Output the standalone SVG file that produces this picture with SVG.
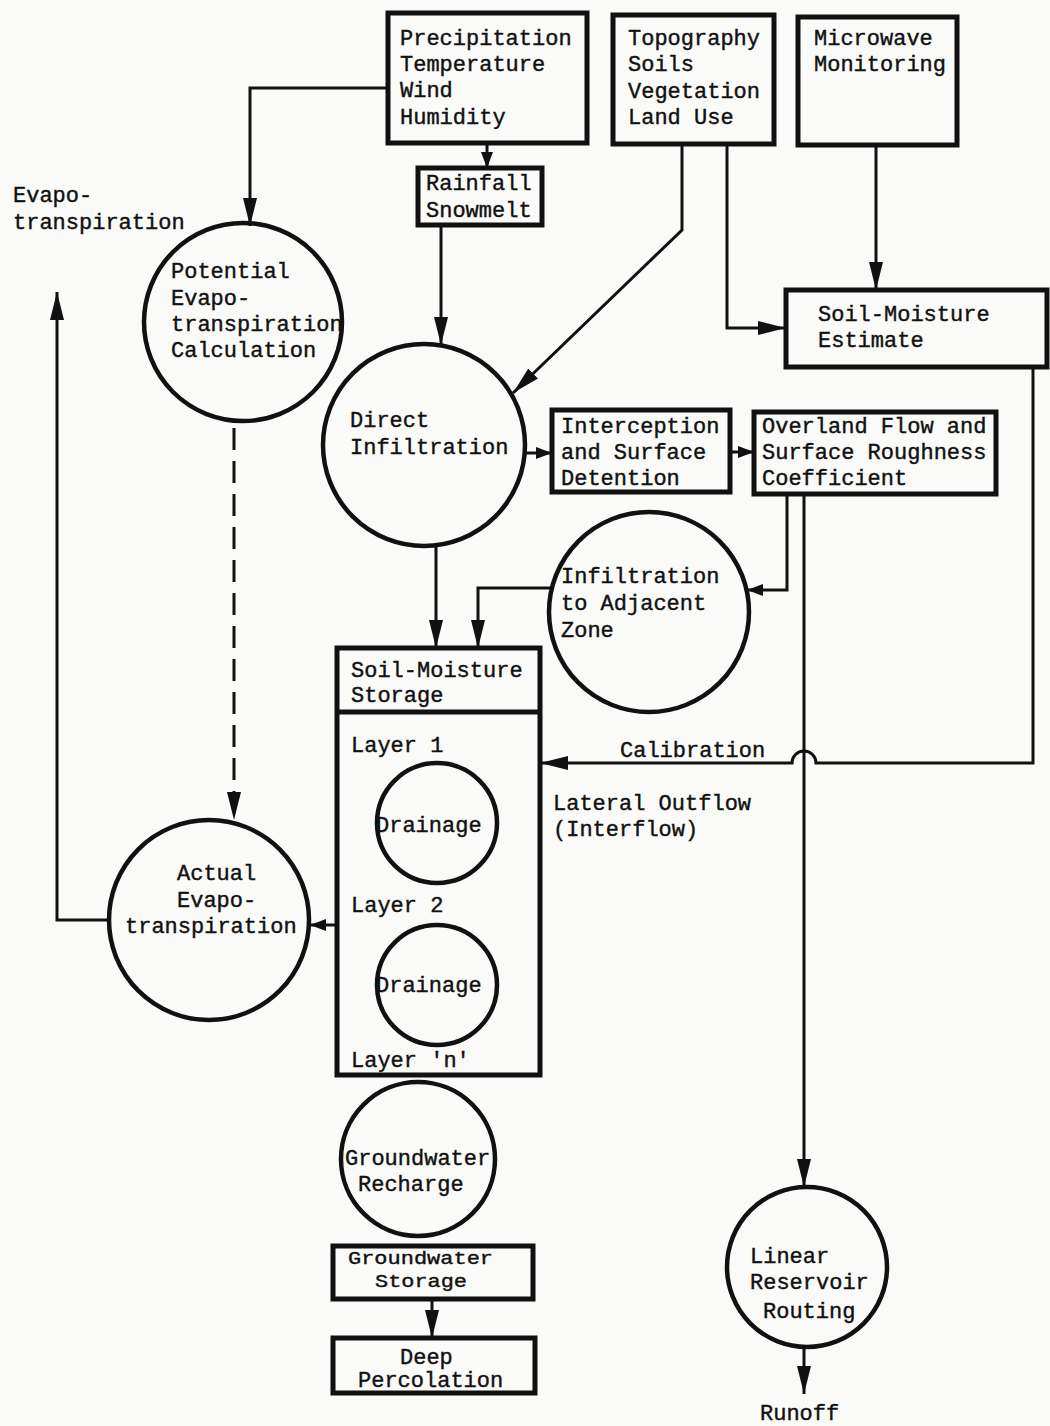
<svg xmlns="http://www.w3.org/2000/svg" width="1050" height="1426" viewBox="0 0 1050 1426">
<style>
.bx{fill:none;stroke:#111;stroke-width:5}
.cl{fill:none;stroke:#111;stroke-width:4.5}
.cn{fill:none;stroke:#111;stroke-width:3}
.t{font-family:"Liberation Mono","DejaVu Sans Mono",monospace;font-size:22px;fill:#111;stroke:#111;stroke-width:0.4}
.ts{font-size:19px}
</style>
<defs>
<marker id="arr" markerUnits="userSpaceOnUse" markerWidth="30" markerHeight="16" refX="28" refY="7" orient="auto">
<path d="M0,0 L28,7 L0,14 Z" fill="#111"/>
</marker>
<marker id="arrs" markerUnits="userSpaceOnUse" markerWidth="18" markerHeight="14" refX="16" refY="6" orient="auto">
<path d="M0,0 L16,6 L0,12 Z" fill="#111"/>
</marker>
</defs>
<rect width="1050" height="1426" fill="#fafaf8"/>

<g id="connectors">
<path class="cn" d="M388,88 H250 V226" marker-end="url(#arr)"/>
<path class="cn" d="M487,143 V168" marker-end="url(#arrs)"/>
<path class="cn" d="M441,225 V345" marker-end="url(#arr)"/>
<path class="cn" d="M682,144 V230 L513,393" marker-end="url(#arr)"/>
<path class="cn" d="M727,144 V328 H786" marker-end="url(#arr)"/>
<path class="cn" d="M876,145 V290" marker-end="url(#arr)"/>
<path class="cn" d="M526,453 H552" marker-end="url(#arrs)"/>
<path class="cn" d="M730,452 H754" marker-end="url(#arrs)"/>
<path class="cn" d="M787,494 V590 H747" marker-end="url(#arrs)"/>
<path class="cn" d="M804,494 V1187" marker-end="url(#arr)"/>
<path class="cn" d="M551,588 H478 V648" marker-end="url(#arr)"/>
<path class="cn" d="M436,545 V648" marker-end="url(#arr)"/>
<path class="cn" d="M1033,367 V763 H816 A12,12 0 0 0 792,763 H540" marker-end="url(#arr)"/>
<path class="cn" d="M337,925 H310" marker-end="url(#arrs)"/>
<path class="cn" d="M109,920 H57 V292" marker-end="url(#arr)"/>
<path class="cn" d="M234,428 V820" stroke-dasharray="22 11" marker-end="url(#arr)"/>
<path class="cn" d="M432,1298 V1338" marker-end="url(#arr)"/>
<path class="cn" d="M804,1347 V1394" marker-end="url(#arr)"/>
</g>

<g id="precipitation">
<rect class="bx" x="388" y="13" width="199" height="130"/>
<text class="t" x="400" y="45">Precipitation</text>
<text class="t" x="400" y="71">Temperature</text>
<text class="t" x="400" y="97">Wind</text>
<text class="t" x="400" y="124">Humidity</text>
</g>

<g id="rainfall">
<rect class="bx" x="418" y="168" width="124" height="57"/>
<text class="t" x="426" y="190">Rainfall</text>
<text class="t" x="426" y="217">Snowmelt</text>
</g>

<g id="topography">
<rect class="bx" x="613" y="15" width="161" height="129"/>
<text class="t" x="628" y="45">Topography</text>
<text class="t" x="628" y="71">Soils</text>
<text class="t" x="628" y="98">Vegetation</text>
<text class="t" x="628" y="124">Land Use</text>
</g>

<g id="microwave">
<rect class="bx" x="798" y="17" width="159" height="128"/>
<text class="t" x="814" y="45">Microwave</text>
<text class="t" x="814" y="71">Monitoring</text>
</g>

<g id="sm-estimate">
<rect class="bx" x="786" y="290" width="261" height="77"/>
<text class="t" x="818" y="321">Soil-Moisture</text>
<text class="t" x="818" y="347">Estimate</text>
</g>

<g id="label-evapo">
<text class="t" x="13" y="202">Evapo-</text>
<text class="t" x="13" y="229">transpiration</text>
</g>

<g id="potential-et">
<circle class="cl" cx="243" cy="322" r="99"/>
<text class="t" x="171" y="278">Potential</text>
<text class="t" x="171" y="305">Evapo-</text>
<text class="t" x="171" y="331">transpiration</text>
<text class="t" x="171" y="357">Calculation</text>
</g>

<g id="direct-infiltration">
<circle class="cl" cx="424" cy="445" r="101"/>
<text class="t" x="350" y="427">Direct</text>
<text class="t" x="350" y="454">Infiltration</text>
</g>

<g id="interception">
<rect class="bx" x="552" y="410" width="178" height="82"/>
<text class="t" x="561" y="433">Interception</text>
<text class="t" x="561" y="459">and Surface</text>
<text class="t" x="561" y="485">Detention</text>
</g>

<g id="overland">
<rect class="bx" x="754" y="412" width="242" height="82"/>
<text class="t" x="762" y="433">Overland Flow and</text>
<text class="t" x="762" y="459">Surface Roughness</text>
<text class="t" x="762" y="485">Coefficient</text>
</g>

<g id="infiltration-adjacent">
<circle class="cl" cx="649" cy="612" r="100"/>
<text class="t" x="561" y="583">Infiltration</text>
<text class="t" x="561" y="610">to Adjacent</text>
<text class="t" x="561" y="637">Zone</text>
</g>

<g id="label-calibration">
<text class="t" x="620" y="757">Calibration</text>
</g>

<g id="sm-storage">
<rect class="bx" x="337" y="648" width="203" height="427"/>
<line class="bx" x1="337" y1="712" x2="540" y2="712"/>
<text class="t" x="351" y="677">Soil-Moisture</text>
<text class="t" x="351" y="702">Storage</text>
<text class="t" x="351" y="752">Layer 1</text>
<text class="t" x="351" y="912">Layer 2</text>
<text class="t" x="351" y="1067">Layer 'n'</text>
</g>

<g id="drainage-1">
<circle class="cl" cx="437" cy="823" r="60"/>
<text class="t" x="376" y="832">Drainage</text>
</g>

<g id="drainage-2">
<circle class="cl" cx="437" cy="985" r="60"/>
<text class="t" x="376" y="992">Drainage</text>
</g>

<g id="label-lateral">
<text class="t" x="553" y="810">Lateral Outflow</text>
<text class="t" x="553" y="836">(Interflow)</text>
</g>

<g id="actual-et">
<circle class="cl" cx="209" cy="920" r="100"/>
<text class="t" x="177" y="880">Actual</text>
<text class="t" x="177" y="907">Evapo-</text>
<text class="t" x="125" y="933">transpiration</text>
</g>

<g id="gw-recharge">
<circle class="cl" cx="418" cy="1159" r="77"/>
<text class="t" x="345" y="1165">Groundwater</text>
<text class="t" x="358" y="1191">Recharge</text>
</g>

<g id="gw-storage">
<rect class="bx" x="333" y="1246" width="200" height="53"/>
<text class="t ts" x="348" y="1264" textLength="145" lengthAdjust="spacingAndGlyphs">Groundwater</text>
<text class="t ts" x="375" y="1287" textLength="92" lengthAdjust="spacingAndGlyphs">Storage</text>
</g>

<g id="deep-percolation">
<rect class="bx" x="333" y="1338" width="202" height="55"/>
<text class="t" x="400" y="1364">Deep</text>
<text class="t" x="358" y="1387">Percolation</text>
</g>

<g id="linear-reservoir">
<circle class="cl" cx="807" cy="1267" r="80"/>
<text class="t" x="750" y="1263">Linear</text>
<text class="t" x="750" y="1289">Reservoir</text>
<text class="t" x="763" y="1318">Routing</text>
</g>

<g id="label-runoff">
<text class="t" x="760" y="1420">Runoff</text>
</g>
</svg>
